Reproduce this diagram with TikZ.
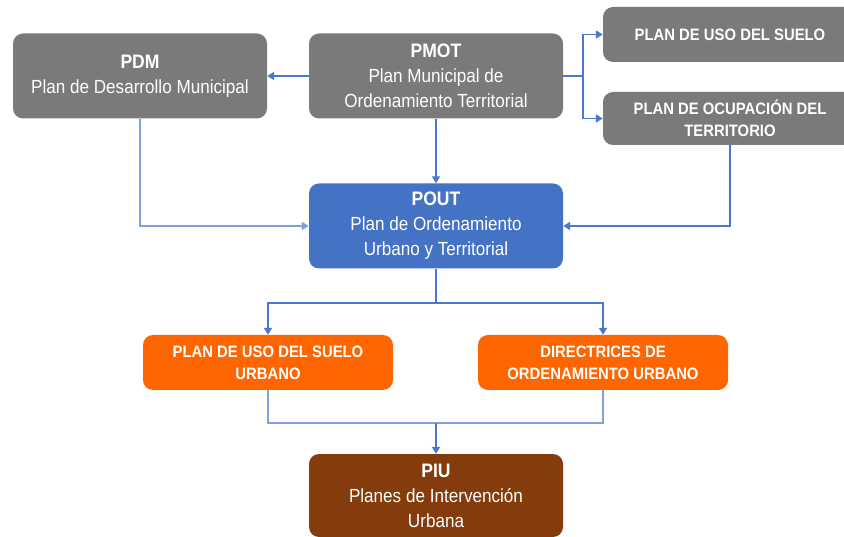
\documentclass[tikz,border=0pt]{standalone}
\usepackage{fontspec}
\setmainfont{Liberation Sans}[FakeStretch=0.9]
\usetikzlibrary{arrows.meta}
\definecolor{boxgray}{HTML}{7A7A7A}
\definecolor{boxblue}{HTML}{4472C4}
\definecolor{boxorange}{HTML}{FF6600}
\definecolor{boxbrown}{HTML}{843C0C}
\definecolor{linkblue}{HTML}{4A78CC}
\definecolor{linklight}{HTML}{7FA2DE}
\newcommand{\ttl}[1]{{\bfseries\fontsize{19.5}{25}\selectfont #1}}
\tikzset{
  box/.style={rounded corners=10pt, text=white, align=center, inner sep=2pt,
    font=\fontsize{19}{25}\selectfont},
  capbox/.style={box, font=\bfseries\fontsize{16.5}{22}\selectfont},
  link/.style={draw=linkblue, line width=1.8pt},
  lightlink/.style={draw=linklight, line width=1.8pt},
  arr/.style={-{Triangle[width=8pt,length=7pt]}},
}
\begin{document}
\begin{tikzpicture}[x=1pt,y=-1pt]
\useasboundingbox (0,0) rectangle (844,537);
\clip (0,0) rectangle (844,537);
\fill[white] (0,0) rectangle (844,537);

\node[box, fill=boxgray, minimum width=254pt, minimum height=85pt] (pdm) at (140,76)
  {\ttl{PDM}\\Plan de Desarrollo Municipal};
\node[box, fill=boxgray, minimum width=254pt, minimum height=85pt] (pmot) at (436,76)
  {\ttl{PMOT}\\Plan Municipal de\\Ordenamiento Territorial};
\node[capbox, fill=boxgray, minimum width=254pt, minimum height=55pt] (uso) at (730,34.5)
  {PLAN DE USO DEL SUELO};
\node[capbox, fill=boxgray, minimum width=254pt, minimum height=53pt] (ocu) at (730,118.5)
  {PLAN DE OCUPACIÓN DEL\\TERRITORIO};
\node[box, fill=boxblue, minimum width=254pt, minimum height=85pt] (pout) at (436,226)
  {\ttl{POUT}\\Plan de Ordenamiento\\Urbano y Territorial};
\node[capbox, fill=boxorange, minimum width=250pt, minimum height=55pt] (pusu) at (268,362.5)
  {PLAN DE USO DEL SUELO\\URBANO};
\node[capbox, fill=boxorange, minimum width=250pt, minimum height=55pt] (dir) at (603,362.5)
  {DIRECTRICES DE\\ORDENAMIENTO URBANO};
\node[box, fill=boxbrown, minimum width=254pt, minimum height=83pt] (piu) at (436,495.5)
  {\ttl{PIU}\\Planes de Intervención\\Urbana};

\coordinate (s1) at (583,76);
\coordinate (s2) at (436,303);
\coordinate (s3) at (436,423);

\draw[link,arr] (pmot.west) -- (pdm.east);
\draw[link] (pmot.east) -- (s1);
\draw[link,arr] (s1) |- (uso.west);
\draw[link,arr] (s1) |- (ocu.west);
\draw[link,arr] (pmot.south) -- (pout.north);
\draw[lightlink,arr] (pdm.south) |- (pout.west);
\draw[link,arr] (ocu.south) |- (pout.east);
\draw[link] (pout.south) -- (s2);
\draw[link,arr] (s2) -| (pusu.north);
\draw[link,arr] (s2) -| (dir.north);
\draw[lightlink] (pusu.south) |- (s3);
\draw[lightlink] (dir.south) |- (s3);
\draw[link,arr] (s3) -- (piu.north);
\end{tikzpicture}
\end{document}
